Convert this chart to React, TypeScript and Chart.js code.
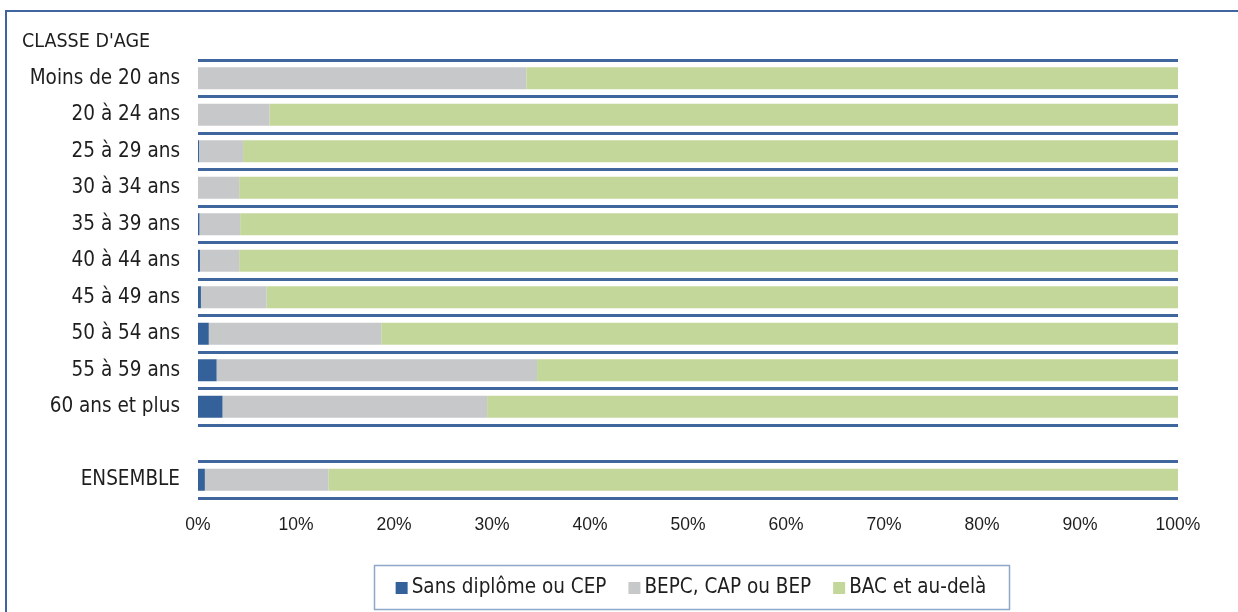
import React, { useEffect, useRef } from "react";
import { Chart, registerables } from "chart.js";

Chart.register(...registerables);

// ---- Data ----
const headerLabel = "CLASSE D'AGE";
const categories = [
  "",
  "Moins de 20 ans",
  "20 à 24 ans",
  "25 à 29 ans",
  "30 à 34 ans",
  "35 à 39 ans",
  "40 à 44 ans",
  "45 à 49 ans",
  "50 à 54 ans",
  "55 à 59 ans",
  "60 ans et plus",
  "",
  "ENSEMBLE",
];
const seriesNames = ["Sans diplôme ou CEP", "BEPC, CAP ou BEP", "BAC et au-delà"];
const sansDiplome = [null, 0, 0, 0.1, 0, 0.15, 0.2, 0.3, 1.1, 1.9, 2.5, null, 0.7];
const bepc = [null, 33.5, 7.3, 4.5, 4.2, 4.15, 4.0, 6.7, 17.6, 32.7, 27.0, null, 12.6];
const bac = [null, 66.5, 92.7, 95.4, 95.8, 95.7, 95.8, 93.0, 81.3, 65.4, 70.5, null, 86.7];
const xTickValues = [0, 10, 20, 30, 40, 50, 60, 70, 80, 90, 100];

// ---- Styles ----
const seriesColors = ["#34619a", "#c7c8ca", "#c4d79b"];
const gridBlue = "#3f669d";
const frameBlue = "#3e65a0";
const textColor = "#1e1e1e";
const labelFont = "'DejaVu Sans Condensed', 'DejaVu Sans', sans-serif";
const tickFont = "'Liberation Sans', Arial, sans-serif";

const W = 1238;
const H = 612;

const decorPlugin = {
  id: "decor",
  beforeDraw(chart: any) {
    const ctx = chart.ctx;
    ctx.save();
    ctx.fillStyle = "#ffffff";
    ctx.fillRect(0, 0, W, H);
    ctx.strokeStyle = frameBlue;
    ctx.lineWidth = 2;
    ctx.beginPath();
    ctx.moveTo(6, H);
    ctx.lineTo(6, 11);
    ctx.lineTo(W, 11);
    ctx.stroke();
    ctx.restore();
  },
  afterDraw(chart: any) {
    const ctx = chart.ctx;
    const yScale = chart.scales.y;
    ctx.save();
    ctx.font = `19.5px ${labelFont}`;
    ctx.fillStyle = textColor;
    ctx.textAlign = "left";
    ctx.textBaseline = "middle";
    ctx.fillText(headerLabel, 22, yScale.getPixelForValue(0));

    const fontPx = 20.5;
    ctx.font = `${fontPx}px ${labelFont}`;
    const box = 12;
    const gapBoxText = 4;
    const gapItems = 22;
    const padX = 22;
    const widths = seriesNames.map((n) => ctx.measureText(n).width);
    let content = 0;
    widths.forEach((w, i) => {
      content += box + gapBoxText + w + (i < widths.length - 1 ? gapItems : 0);
    });
    const boxW = content + padX * 2;
    const cx = (chart.chartArea.left + chart.chartArea.right) / 2 + 3;
    const left = cx - boxW / 2;
    const top = 565;
    const bottom = 609;
    ctx.strokeStyle = "#8ea6c8";
    ctx.lineWidth = 1.5;
    ctx.strokeRect(Math.round(left) + 0.5, top + 0.5, Math.round(boxW), bottom - top);
    const midY = (top + bottom) / 2 + 1;
    let x = left + padX;
    seriesNames.forEach((n, i) => {
      ctx.fillStyle = seriesColors[i];
      ctx.fillRect(x, midY - box / 2, box, box);
      x += box + gapBoxText;
      ctx.fillStyle = textColor;
      ctx.textAlign = "left";
      ctx.textBaseline = "middle";
      ctx.fillText(n, x, midY);
      x += widths[i] + gapItems;
    });
    ctx.restore();
  },
};

export default function App() {
  const canvasRef = useRef<HTMLCanvasElement | null>(null);

  useEffect(() => {
    const canvas = canvasRef.current;
    if (!canvas) return;
    const datasets = [sansDiplome, bepc, bac].map((data, i) => ({
      label: seriesNames[i],
      data,
      backgroundColor: seriesColors[i],
      borderWidth: 0,
      categoryPercentage: 0.6,
      barPercentage: 1,
    }));
    const chart = new Chart(canvas, {
      type: "bar",
      data: { labels: categories, datasets },
      options: {
        indexAxis: "y",
        responsive: false,
        animation: false,
        events: [],
        layout: { padding: { left: 0, right: 60, top: 23.5, bottom: 0 } },
        plugins: {
          legend: { display: false },
          tooltip: { enabled: false },
          title: { display: false },
        },
        scales: {
          x: {
            type: "linear",
            stacked: true,
            min: 0,
            max: 100,
            afterBuildTicks(scale: any) {
              scale.ticks = xTickValues.map((v) => ({ value: v }));
            },
            afterFit(scale: any) {
              scale.height = 114;
              scale.paddingLeft = 0;
              scale.paddingRight = 0;
            },
            grid: { display: false, drawTicks: false },
            border: { display: false },
            ticks: {
              padding: 17,
              color: textColor,
              font: { family: tickFont, size: 17.5 },
              callback: (v: any) => `${v}%`,
            },
          },
          y: {
            type: "category",
            stacked: true,
            afterFit(scale: any) {
              scale.width = 198;
              scale.paddingTop = 0;
              scale.paddingBottom = 0;
            },
            grid: {
              offset: true,
              drawTicks: false,
              lineWidth: 3,
              color: (c: any) => (c.index === 0 ? "rgba(0,0,0,0)" : gridBlue),
            },
            border: { display: false },
            ticks: {
              padding: 18,
              color: textColor,
              font: { family: labelFont, size: 20.5 },
            },
          },
        },
      },
      plugins: [decorPlugin],
    } as any);
    return () => chart.destroy();
  }, []);

  return (
    <div style={{ position: "fixed", left: 0, top: 0, width: W, height: H, background: "#fff" }}>
      <canvas ref={canvasRef} width={W} height={H} style={{ display: "block", width: W, height: H }} />
    </div>
  );
}
